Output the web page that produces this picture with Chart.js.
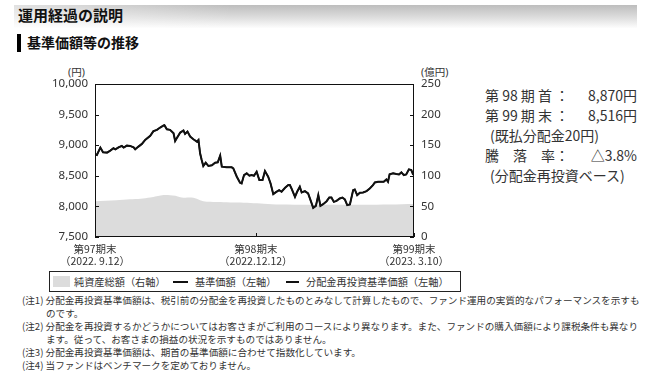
<!DOCTYPE html>
<html lang="ja">
<head>
<meta charset="utf-8">
<script src="https://cdn.jsdelivr.net/npm/chart.js@4/dist/chart.umd.min.js"></script>
<style>
  html, body { margin:0; padding:0; background:#fff; }
  body { width:653px; height:382px; position:relative; overflow:hidden;
         font-family:"Noto Sans CJK JP","Noto Sans",sans-serif; color:#333; }
  .abs { position:absolute; white-space:nowrap; }
  #hdr { left:14px; top:5px; width:623px; height:23px;
         background:linear-gradient(to right, rgba(255,255,255,0.55), rgba(255,255,255,0) 35%),
                    linear-gradient(to bottom, #bdbdbd 0%, #dedede 55%, #fdfdfd 100%); }
  #hdrText { left:18px; top:6px; font-size:15px; font-weight:bold; color:#111; line-height:18px; }
  #subBar { left:17px; top:34px; width:4px; height:18px; background:#000; }
  #subText { left:27px; top:34px; font-size:14px; font-weight:bold; color:#111; line-height:17px; }
  #chartWrap { left:0; top:60px; width:470px; height:210px; }
  .unit { font-size:10.5px; line-height:12px; color:#333; font-family:"Noto Sans","Noto Sans CJK JP",sans-serif; }
  #legend { left:49px; top:271px; width:410px; height:19px; border:1px solid #222; font-size:10.2px; line-height:19px; }
  .lg { position:absolute; top:0; white-space:nowrap; }
  .sw { position:absolute; }
  .info { font-size:14px; line-height:18px; color:#333; }
  .note { font-size:9.6px; line-height:12px; color:#333; left:22px; }
</style>
</head>
<body>
<div id="hdr" class="abs"></div>
<div id="hdrText" class="abs">運用経過の説明</div>
<div id="subBar" class="abs"></div>
<div id="subText" class="abs">基準価額等の推移</div>

<div class="abs unit" style="left:68px;top:66px;">(円)</div>
<div class="abs unit" style="left:421px;top:66px;">(億円)</div>

<div id="chartWrap" class="abs"><canvas id="c" width="470" height="210"></canvas></div>

<div id="legend" class="abs">
  <div class="sw" style="left:3px;top:4px;width:17px;height:11px;background:#dcdcdc;"></div>
  <div class="lg" id="lg0" style="left:24px;"></div>
  <div class="sw" style="left:123px;top:9px;width:15px;height:2px;background:#111;"></div>
  <div class="lg" id="lg1" style="left:145px;"></div>
  <div class="sw" style="left:236px;top:9px;width:13px;height:1.5px;background:#111;"></div>
  <div class="lg" id="lg2" style="left:256px;"></div>
</div>

<div class="abs info" style="left:485px;top:86px;">第 98 期 首 ：</div>
<div class="abs info" style="right:16px;top:86px;">8,870円</div>
<div class="abs info" style="left:485px;top:106px;">第 99 期 末 ：</div>
<div class="abs info" style="right:16px;top:106px;">8,516円</div>
<div class="abs info" style="left:490px;top:126px;">(既払分配金20円)</div>
<div class="abs info" style="left:485px;top:146px;">騰　落　率：</div>
<div class="abs info" style="right:16px;top:146px;">△3.8%</div>
<div class="abs info" style="left:490px;top:166px;">(分配金再投資ベース)</div>

<div class="abs note" style="top:294px;">(注1)&nbsp;分配金再投資基準価額は、税引前の分配金を再投資したものとみなして計算したもので、ファンド運用の実質的なパフォーマンスを示すも</div>
<div class="abs note" style="top:307px;left:46px;">のです。</div>
<div class="abs note" style="top:320px;">(注2)&nbsp;分配金を再投資するかどうかについてはお客さまがご利用のコースにより異なります。また、ファンドの購入価額により課税条件も異なり</div>
<div class="abs note" style="top:333px;left:46px;">ます。従って、お客さまの損益の状況を示すものではありません。</div>
<div class="abs note" style="top:346px;">(注3)&nbsp;分配金再投資基準価額は、期首の基準価額に合わせて指数化しています。</div>
<div class="abs note" style="top:359px;">(注4)&nbsp;当ファンドはベンチマークを定めておりません。</div>

<script>
// ---- data (business-day index from 第97期末) ----
const seriesLabels = ["純資産総額（右軸）", "基準価額（左軸）", "分配金再投資基準価額（左軸）"];

const navDays = [0,0.7,2,3,4.5,5.7,6.9,7.6,8.8,10,10.7,11.9,13.1,14.4,15,16.2,17.5,18.7,20.6,21.8,23.1,24.3,25.6,25.9,26.8,28,29.3,29.9,30.5,31.8,33,33.6,34.5,35.5,36.7,38,38.6,39.2,39.8,40.4,41.3,42.3,43.6,44.8,45.8,46.7,47.3,49.1,51,51.6,52.9,54.1,54.7,55.6,56.6,57.6,58.4,59.3,60.3,61.3,62.5,63.4,64.6,65.5,66.5,67.5,68.7,69.6,70.9,72.1,72.7,73.3,74.6,75.4,76.4,77.1,78.3,79.5,80.4,81.4,82.4,83.3,84.1,85.1,86.4,87.4,88.2,89.1,90.1,91.3,92.3,93.2,94.1,95.1,96.3,96.9,97.8,98.8,100,101.3,102.5,103.7,104.4,105.6,106.8,107.7,108.7,109.3,109.9,111.2,112.4,113.4,114.3,115.2,116.1,117.1,118,118.6,119];
const navValues = [8851,8840,8961,8884,8879,8911,8950,8933,8966,8988,8961,8993,8988,8966,8933,8977,9021,9086,9152,9229,9251,9289,9322,9327,9261,9251,9196,9070,9114,9207,9240,9185,9223,9141,9097,9059,9086,8868,8758,8660,8714,8660,8671,8714,8720,8829,8649,8638,8638,8621,8485,8386,8375,8512,8540,8501,8512,8501,8567,8430,8430,8578,8485,8375,8200,8233,8266,8239,8304,8348,8348,8293,8156,8239,8321,8228,8250,8211,8102,7976,8009,8184,8009,8036,8085,8145,8145,8074,8091,8129,8145,8113,8020,8031,8266,8277,8184,8222,8228,8250,8293,8348,8392,8403,8403,8403,8441,8403,8523,8540,8528,8523,8556,8512,8523,8605,8594,8528,8516];
const reinvestValues = [8851,8840,8961,8884,8879,8911,8950,8933,8966,8988,8961,8993,8988,8966,8933,8977,9021,9086,9152,9229,9251,9289,9322,9327,9261,9251,9196,9070,9114,9207,9240,9185,9223,9141,9097,9059,9086,8868,8758,8660,8714,8660,8671,8714,8720,8829,8649,8638,8638,8621,8485,8386,8375,8512,8540,8501,8512,8501,8567,8430,8430,8578,8485,8375,8200,8233,8266,8239,8304,8348,8348,8293,8156,8239,8321,8228,8250,8211,8102,7976,8009,8184,8009,8036,8085,8145,8145,8074,8091,8129,8145,8113,8020,8031,8266,8277,8184,8222,8228,8250,8293,8348,8392,8403,8403,8403,8441,8403,8523,8540,8528,8523,8556,8512,8523,8605,8594,8528,8516];

const assetDays   = [0,8,13,17,20.6,23,25,28,30,32.4,36.7,39.2,40.4,43,48,53,58,63,69,80,90,100,110,119];
const assetValues = [58.6,60,61.5,62.5,64.5,66.5,68.4,68.4,67.5,64.6,64,60.2,58.6,57.5,56.9,56.3,55.5,54.5,53,52.7,52.5,52.7,53.2,54];

const xTickDays   = [0, 60, 119];
const xTickLabels = [["第97期末","（2022. 9.12）"],["第98期末","（2022.12.12）"],["第99期末","（2023. 3.10）"]];
const leftTicks  = [7500, 8000, 8500, 9000, 9500, 10000];
const rightTicks = [0, 50, 100, 150, 200, 250];

// legend text
seriesLabels.forEach((t,i)=>{ document.getElementById('lg'+i).textContent = t; });

const zip = (xs, ys) => xs.map((x,i)=>({x:x, y:ys[i]}));

const frame = {
  id:'frame',
  afterDraw(chart){
    const {ctx, chartArea:a, scales} = chart;
    ctx.save();
    ctx.strokeStyle = '#111';
    ctx.lineWidth = 1;
    ctx.strokeRect(Math.round(a.left)+0.5, Math.round(a.top)+0.5, Math.round(a.right-a.left)-1, Math.round(a.bottom-a.top)-1);
    ctx.beginPath();
    scales.y.ticks.forEach(t=>{
      const py = Math.round(scales.y.getPixelForValue(t.value))+0.5;
      ctx.moveTo(a.left, py); ctx.lineTo(a.left+4, py);
    });
    scales.y2.ticks.forEach(t=>{
      const py = Math.round(scales.y2.getPixelForValue(t.value))+0.5;
      ctx.moveTo(a.right, py); ctx.lineTo(a.right-4, py);
    });
    scales.x.ticks.forEach(t=>{
      const px = Math.round(scales.x.getPixelForValue(t.value))+0.5;
      ctx.moveTo(px, a.bottom); ctx.lineTo(px, a.bottom-4);
    });
    ctx.stroke();
    ctx.restore();
  }
};

Chart.defaults.font.family = "'Noto Sans','Noto Sans CJK JP',sans-serif";
Chart.defaults.color = '#333';

new Chart(document.getElementById('c'), {
  type:'line',
  data:{
    datasets:[
      { label: seriesLabels[0], data: zip(assetDays, assetValues), yAxisID:'y2',
        borderWidth:0, pointRadius:0, fill:'origin', backgroundColor:'#dcdcdc', tension:0.3, order:3 },
      { label: seriesLabels[1], data: zip(navDays, navValues), yAxisID:'y',
        borderColor:'#111', borderWidth:2, pointRadius:0, fill:false, tension:0, order:1 },
      { label: seriesLabels[2], data: zip(navDays, reinvestValues), yAxisID:'y',
        borderColor:'#111', borderWidth:1.5, pointRadius:0, fill:false, tension:0, order:2 }
    ]
  },
  options:{
    responsive:false, animation:false,
    layout:{ padding:{ top:24, left:0, right:0, bottom:0 } },
    plugins:{ legend:{display:false}, tooltip:{enabled:false} },
    scales:{
      x:{ type:'linear', min:0, max:119,
          afterBuildTicks(s){ s.ticks = xTickDays.map(v=>({value:v})); },
          afterFit(s){ s.height = 33; },
          grid:{ display:false, drawTicks:false }, border:{ display:false },
          ticks:{ padding:6, font:{size:10.5, lineHeight:1.15, family:"'Noto Sans CJK JP','Noto Sans',sans-serif"}, color:'#333', maxRotation:0, autoSkip:false,
                  callback:(v)=>{ const i = xTickDays.indexOf(v); return i>=0 ? xTickLabels[i] : ''; } } },
      y:{ position:'left', min:7500, max:10000,
          afterBuildTicks(s){ s.ticks = leftTicks.map(v=>({value:v})); },
          afterFit(s){ s.width = 95; },
          grid:{ display:false, drawTicks:false }, border:{ display:false },
          ticks:{ padding:7, font:{size:11.5}, color:'#333',
                  callback:(v)=>v.toLocaleString('en-US') } },
      y2:{ position:'right', min:0, max:250,
          afterBuildTicks(s){ s.ticks = rightTicks.map(v=>({value:v})); },
          afterFit(s){ s.width = 56; },
          grid:{ display:false, drawTicks:false }, border:{ display:false },
          ticks:{ padding:7, font:{size:11.5}, color:'#333' } }
    }
  },
  plugins:[frame]
});
</script>
</body>
</html>
